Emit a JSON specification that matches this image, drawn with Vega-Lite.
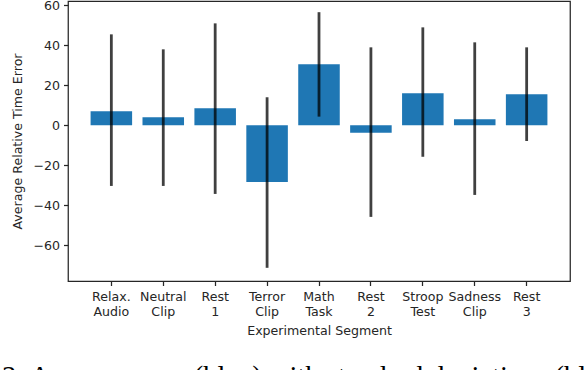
{
  "$schema": "https://vega.github.io/schema/vega-lite/v6.json",
  "width": 502,
  "height": 280,
  "autosize": {"type": "none"},
  "padding": {"left": 68, "top": 1, "right": 16, "bottom": 89},
  "background": "white",
  "title": {
    "text": "3: Average error (blue) with standard deviations (black)",
    "orient": "bottom",
    "anchor": "start",
    "frame": "bounds",
    "font": "Liberation Serif",
    "fontSize": 28.5,
    "fontWeight": "normal",
    "color": "black",
    "baseline": "alphabetic",
    "offset": 49,
    "dx": -10
  },
  "data": {
    "values": [
      {"segment": "Relax. Audio", "mean": 7.0, "lo": -30.4, "hi": 45.5},
      {"segment": "Neutral Clip", "mean": 4.0, "lo": -30.4, "hi": 38.0},
      {"segment": "Rest 1", "mean": 8.5, "lo": -34.4, "hi": 51.0},
      {"segment": "Terror Clip", "mean": -28.4, "lo": -71.4, "hi": 14.0},
      {"segment": "Math Task", "mean": 30.5, "lo": 4.3, "hi": 56.6},
      {"segment": "Rest 2", "mean": -3.8, "lo": -45.9, "hi": 39.0},
      {"segment": "Stroop Test", "mean": 16.0, "lo": -15.8, "hi": 49.0},
      {"segment": "Sadness Clip", "mean": 3.0, "lo": -34.9, "hi": 41.5},
      {"segment": "Rest 3", "mean": 15.5, "lo": -7.9, "hi": 39.0}
    ]
  },
  "encoding": {
    "x": {
      "field": "segment",
      "type": "nominal",
      "sort": null,
      "title": "Experimental Segment",
      "scale": {"paddingInner": 0.2, "paddingOuter": 0.435},
      "axis": {
        "labelAngle": 0,
        "labelExpr": "split(datum.label, ' ')",
        "labelLineHeight": 14.5,
        "labelPadding": 5,
        "titlePadding": 7
      }
    }
  },
  "layer": [
    {
      "mark": {"type": "bar", "color": "#1f77b4"},
      "encoding": {
        "y": {
          "field": "mean",
          "type": "quantitative",
          "title": "Average Relative Time Error",
          "scale": {"domain": [-78, 62.2], "nice": false, "zero": false},
          "axis": {"values": [-60, -40, -20, 0, 20, 40, 60], "labelPadding": 4, "titlePadding": 8}
        }
      }
    },
    {
      "mark": {"type": "rule", "color": "black", "opacity": 0.75, "strokeWidth": 2.8},
      "encoding": {
        "y": {"field": "lo", "type": "quantitative"},
        "y2": {"field": "hi"}
      }
    }
  ],
  "config": {
    "view": {"stroke": "#262626", "strokeWidth": 1.25},
    "axis": {
      "grid": false,
      "domain": false,
      "tickColor": "#262626",
      "tickSize": 4.5,
      "tickWidth": 1.25,
      "labelFont": "DejaVu Sans",
      "labelFontSize": 12.6,
      "labelColor": "#262626",
      "titleFont": "DejaVu Sans",
      "titleFontSize": 12.6,
      "titleFontWeight": "normal",
      "titleColor": "#262626"
    }
  }
}
